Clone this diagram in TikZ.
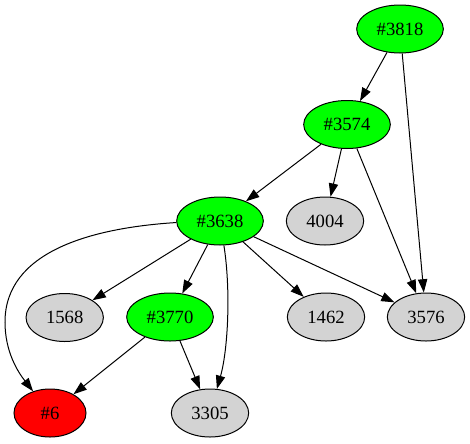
\documentclass[tikz,border=0pt]{standalone}
\usepackage{fontspec}
\setmainfont{Liberation Serif}
\usetikzlibrary{shapes.geometric,arrows.meta}
\definecolor{gvgreen}{HTML}{00FF00}
\definecolor{gvred}{HTML}{FF0000}
\definecolor{gvgray}{HTML}{D3D3D3}
\tikzset{
  gvnode/.style={ellipse,draw=black,line width=0.75pt,inner sep=0pt,minimum height=36pt,font=\fontsize{14pt}{16pt}\selectfont},
  wide/.style={gvnode,minimum width=65pt},
  mid/.style={gvnode,minimum width=58pt},
  small/.style={gvnode,minimum width=54pt},
  greennode/.style={fill=gvgreen},
  rednode/.style={fill=gvred},
  graynode/.style={fill=gvgray},
  edge/.style={line width=0.75pt,-{Triangle[length=10pt,width=7pt]}}
}
\begin{document}
\begin{tikzpicture}[x=0.75pt,y=-0.75pt]
\useasboundingbox (0,0) rectangle (470,443);
\node[wide,greennode] (n3818) at (400,29) {\#3818};
\node[wide,greennode] (n3574) at (347,124.5) {\#3574};
\node[wide,greennode] (n3638) at (220,221) {\#3638};
\node[mid,graynode] (n4004) at (325,221) {4004};
\node[mid,graynode] (n1568) at (64.7,317.5) {1568};
\node[wide,greennode] (n3770) at (170,317) {\#3770};
\node[mid,graynode] (n1462) at (326,317) {1462};
\node[mid,graynode] (n3576) at (426,317) {3576};
\node[small,rednode] (n6) at (50,413) {\#6};
\node[mid,graynode] (n3305) at (210,413) {3305};
\coordinate (c6) at (5,322);

\draw[edge] (n3818) -- (n3574);
\draw[edge] (n3818) -- (n3576);
\draw[edge] (n3574) -- (n3638);
\draw[edge] (n3574) -- (n4004);
\draw[edge] (n3574) -- (n3576);
\draw[edge] (n3638) -- (n1568);
\draw[edge] (n3638) -- (n3770);
\draw[edge] (n3638) .. controls (231,290) and (228,350) .. (n3305);
\draw[edge] (n3638) -- (n1462);
\draw[edge] (n3638) -- (n3576);
\draw[edge] (n3638.182) .. controls (90,228) and (5,252) .. (c6) .. controls (5,352) and (18,372) .. (n6);
\draw[edge] (n3770) -- (n6);
\draw[edge] (n3770) -- (n3305);
\end{tikzpicture}
\end{document}
